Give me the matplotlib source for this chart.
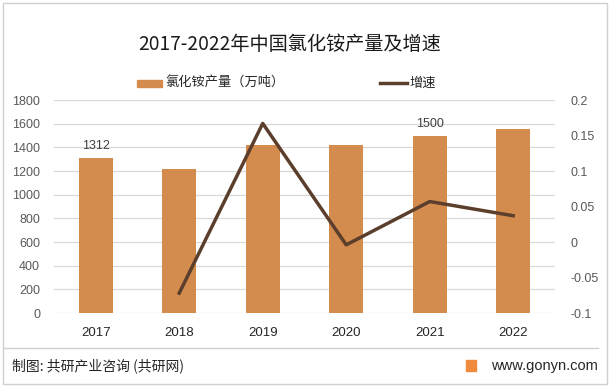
import matplotlib.pyplot as plt
from matplotlib.patches import Rectangle
from matplotlib.lines import Line2D

plt.rcParams['font.family'] = ['Noto Sans CJK SC', 'DejaVu Sans']

years = ['2017', '2018', '2019', '2020', '2021', '2022']
output = [1312, 1217, 1420, 1418, 1500, 1555]
growth = [None, -0.072, 0.167, -0.004, 0.057, 0.037]
shown_labels = {0: '1312', 4: '1500'}

bar_color = '#D48C4E'
line_color = '#5B3F2C'
tick_color = '#595959'

fig = plt.figure(figsize=(6.1, 3.87), dpi=100)
ax = fig.add_axes([0.0885, 0.1912, 0.8213, 0.5504])
ax2 = ax.twinx()

x = list(range(len(years)))
ax.bar(x, output, width=0.41, color=bar_color, zorder=2)
for i, txt in shown_labels.items():
    ax.text(i, output[i] + 45, txt, ha='center', va='bottom', fontsize=9,
            color='#404040', family=['Liberation Sans', 'DejaVu Sans'])

gx = [i for i, g in zip(x, growth) if g is not None]
gy = [g for g in growth if g is not None]
ax2.plot(gx, gy, color=line_color, linewidth=2.5, zorder=3)

ax.set_xlim(-0.5, 5.5)
ax.set_ylim(0, 1800)
ax.set_yticks(range(0, 1801, 200))
ax2.set_ylim(-0.1, 0.2)
ax2.set_yticks([-0.1, -0.05, 0, 0.05, 0.1, 0.15, 0.2])
ax2.set_yticklabels(['-0.1', '-0.05', '0', '0.05', '0.1', '0.15', '0.2'])

ax.set_xticks(x)
ax.set_xticklabels(years, fontsize=9.5, color='#262626',
                   family=['Liberation Sans', 'DejaVu Sans'])
ax.yaxis.grid(True, color='#D9D9D9', linewidth=0.9, zorder=0)
ax.set_axisbelow(True)
for a in (ax, ax2):
    for s in a.spines.values():
        s.set_visible(False)
    a.tick_params(length=0)
ax.tick_params(axis='y', labelsize=9, labelcolor=tick_color, pad=10)
ax.tick_params(axis='x', pad=10)
ax2.tick_params(axis='y', labelsize=9, labelcolor=tick_color, pad=11)
for lab in ax.get_yticklabels() + ax2.get_yticklabels():
    lab.set_family(['Liberation Sans', 'DejaVu Sans'])

fig.text(0.475, 1 - 45 / 387, '2017-2022年中国氯化铵产量及增速', ha='center', va='center',
         fontsize=13.8, color='#1a1a1a')

# legend
fig.patches.append(Rectangle((137 / 610, 1 - 87 / 387), 25 / 610, 7 / 387,
                             transform=fig.transFigure, color=bar_color))
fig.text(165 / 610, 1 - 83 / 387, '氯化铵产量（万吨）', ha='left', va='center',
         fontsize=9.5, color='#262626')
fig.lines.append(Line2D([380 / 610, 407 / 610], [1 - 83 / 387, 1 - 83 / 387],
                        transform=fig.transFigure, color=line_color, linewidth=2.5))
fig.text(409 / 610, 1 - 83 / 387, '增速', ha='left', va='center',
         fontsize=9.5, color='#262626')

# frame and footer
fig.patches.append(Rectangle((3 / 610, 3 / 387), 604 / 610, 381 / 387,
                             transform=fig.transFigure, fill=False,
                             edgecolor='#D0D0D0', linewidth=1))
fig.lines.append(Line2D([3 / 610, 598 / 610], [1 - 348 / 387, 1 - 348 / 387],
                        transform=fig.transFigure, color='#D0D0D0', linewidth=1))
fig.text(12 / 610, 1 - 366 / 387, '制图: 共研产业咨询 (共研网)', ha='left', va='center',
         fontsize=10, color='#262626')
fig.patches.append(Rectangle((466 / 610, 1 - 371 / 387), 10 / 610, 11 / 387,
                             transform=fig.transFigure, color='#F08A3C'))
fig.text(598 / 610, 1 - 366 / 387, 'www.gonyn.com', ha='right', va='center',
         fontsize=10.5, color='#262626', family=['Liberation Sans', 'DejaVu Sans'])

fig.savefig('out.png', dpi=100)
